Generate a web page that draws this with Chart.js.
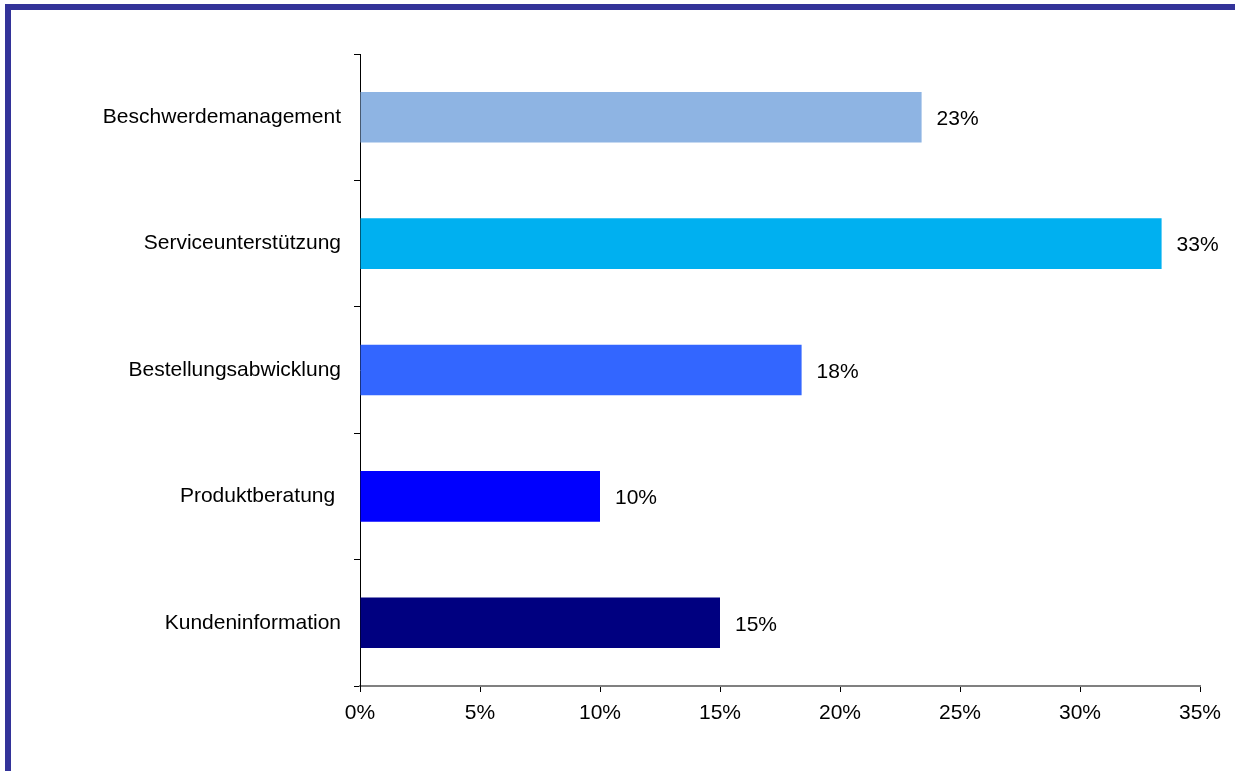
<!DOCTYPE html>
<html lang="de">
<head>
    <meta charset="UTF-8">
    <title>Einsatzbereiche</title>
    <script src="https://cdn.jsdelivr.net/npm/chart.js"></script>
    <style>
        body { margin: 0; overflow: hidden; background: #fff; }
        .rahmen {
            position: absolute; left: 5px; top: 4px;
            width: 1400px; height: 900px;
            border: 6px solid #333399;
        }
        #myChart { position: absolute; left: 0; top: 0; }
    </style>
</head>
<body>
    <div class="rahmen"></div>
    <canvas id="myChart" width="1235" height="771"></canvas>
    <script>
        // Daten
        const kategorien = ['Beschwerdemanagement', 'Serviceunterstützung', 'Bestellungsabwicklung', 'Produktberatung ', 'Kundeninformation'];
        const werte = [23.4, 33.4, 18.4, 10.0, 15.0];
        const farben = ['#8EB4E3', '#00B0F0', '#3366FF', '#0000FF', '#000080'];
        const xTicks = [0, 5, 10, 15, 20, 25, 30, 35];

        const schrift = { family: 'Liberation Sans, Arial, sans-serif', size: 21 };

        /* Werte rechts neben den Balken */
        const wertLabels = {
            id: 'wertLabels',
            afterDatasetsDraw(chart) {
                const ctx = chart.ctx;
                const meta = chart.getDatasetMeta(0);
                ctx.save();
                ctx.font = '21px ' + schrift.family;
                ctx.fillStyle = '#000';
                ctx.textAlign = 'left';
                ctx.textBaseline = 'middle';
                meta.data.forEach((bar, i) => {
                    ctx.fillText(Math.round(werte[i]) + '%', bar.x + 15, bar.y + 2);
                });
                ctx.restore();
            }
        };

        const config = {
            type: 'bar',
            data: {
                labels: kategorien,
                datasets: [{
                    data: werte,
                    backgroundColor: farben,
                    borderWidth: 0,
                    barPercentage: 0.4,
                    categoryPercentage: 1
                }]
            },
            options: {
                indexAxis: 'y',
                responsive: false,
                animation: false,
                layout: { padding: { top: 54, right: 35, bottom: 0, left: 0 } },
                plugins: {
                    legend: { display: false },
                    tooltip: { enabled: false }
                },
                scales: {
                    x: {
                        min: 0,
                        max: 35,
                        afterBuildTicks(scale) {
                            scale.ticks = xTicks.map(v => ({ value: v }));
                        },
                        afterFit(scale) { scale.height = 85; },
                        ticks: {
                            callback: v => v + '%',
                            color: '#000',
                            font: schrift,
                            padding: 9,
                            maxRotation: 0
                        },
                        grid: { drawOnChartArea: false, tickLength: 6, color: '#000' },
                        border: { color: '#808080', width: 2 }
                    },
                    y: {
                        afterFit(scale) { scale.width = 360; },
                        ticks: { color: '#000', font: schrift, padding: 13 },
                        grid: { drawOnChartArea: false, tickLength: 6, color: '#000', offset: true },
                        border: { color: '#000', width: 1 }
                    }
                }
            },
            plugins: [wertLabels]
        };

        new Chart(document.getElementById('myChart'), config);
    </script>
</body>
</html>
